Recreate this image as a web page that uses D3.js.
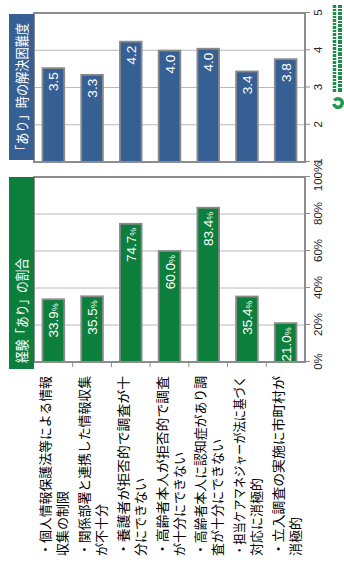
<!DOCTYPE html>
<html><head><meta charset="utf-8">
<script src="https://cdn.jsdelivr.net/npm/d3@7"></script>
<style>body{margin:0;background:#fff}svg{display:block}</style>
</head><body>
<script>
// ---- data ----
const categories = ["c1","c2","c3","c4","c5","c6","c7"];
const labelLine1 = [
  "・個人情報保護法等による情報",
  "・関係部署と連携した情報収集",
  "・養護者が拒否的で調査が十",
  "・高齢者本人が拒否的で調査",
  "・高齢者本人に認知症があり調",
  "・担当ケアマネジャーが法に基づく",
  "・立入調査の実施に市町村が"
];
const labelLine2 = [
  "収集の制限",
  "が不十分",
  "分にできない",
  "が十分にできない",
  "査が十分にできない",
  "対応に消極的",
  "消極的"
];
const experiencedPct = [33.9, 35.5, 74.7, 60.0, 83.4, 35.4, 21.0];
const difficulty = [3.52, 3.34, 4.23, 3.99, 4.04, 3.43, 3.76];
const percentTicks = [0, 20, 40, 60, 80, 100];
const difficultyTicks = [1, 2, 3, 4, 5];
const titlePct = "経験「あり」の割合";
const titleDiff = "「あり」時の解決困難度";

// ---- drawing ----
const W = 344, H = 563;           // screen
const svg = d3.select("body").append("svg").attr("width", W).attr("height", H);
const g = svg.append("g").attr("transform", `translate(0,${H}) rotate(-90)`);

const blue = "#365f93", green = "#0d7f3c";
const jp = "'Noto Sans CJK JP','Noto Sans',sans-serif";
const num = "'Liberation Sans',Arial,sans-serif";

const y = d3.scaleBand().domain(categories).range([34, 305]).paddingInner(0.44).paddingOuter(0.22);
const yStep = d3.scaleBand().domain(categories).range([34, 305]);
const xPct = d3.scaleLinear().domain([0, 100]).range([201, 386]);
const xDiff = d3.scaleLinear().domain([1, 5]).range([401, 550]);

function panel(x, ticks, values, color, fmtLabel, tickFmt, catTicks) {
  const [x0, x1] = x.range();
  g.append("g").selectAll("line").data(ticks).join("line")
    .attr("x1", d => x(d)).attr("x2", d => x(d)).attr("y1", 34).attr("y2", 305)
    .attr("stroke", "#b8b8b8").attr("stroke-width", 1);
  const ax = g.append("g").attr("transform", "translate(0,305)")
    .call(d3.axisBottom(x).tickValues(ticks).tickSize(5).tickPadding(4).tickFormat(tickFmt));
  ax.select(".domain").remove();
  ax.selectAll("line").attr("stroke", "#8c8c8c");
  ax.selectAll("text").attr("font-family", num).attr("font-size", 11.5).attr("fill", "#222");
  if (catTicks) {
    const bounds = categories.slice(1).map(c => yStep(c));
    g.append("g").selectAll("line").data(bounds).join("line")
      .attr("x1", x0 - 5).attr("x2", x0).attr("y1", d => d).attr("y2", d => d)
      .attr("stroke", "#8c8c8c").attr("stroke-width", 1);
  }
  g.append("g").selectAll("rect").data(values).join("rect")
    .attr("x", x0).attr("y", (d, i) => y(categories[i]))
    .attr("width", d => x(d) - x0).attr("height", y.bandwidth())
    .attr("fill", color).attr("stroke", "#8a8a8a").attr("stroke-width", 1.8);
  g.append("rect").attr("x", x0).attr("y", 34).attr("width", x1 - x0).attr("height", 271)
    .attr("fill", "none").attr("stroke", "#8c8c8c").attr("stroke-width", 2);
  const lab = g.append("g").selectAll("text").data(values).join("text")
    .attr("x", d => x(d) - 4).attr("y", (d, i) => y(categories[i]) + y.bandwidth() / 2 + 5)
    .attr("text-anchor", "end").attr("fill", "#fff").attr("font-family", num).attr("font-size", 13.5);
  fmtLabel(lab);
}

panel(xPct, percentTicks, experiencedPct, green, sel => {
  sel.append("tspan").text(d => d3.format(".1f")(d));
  sel.append("tspan").attr("font-size", 9).text("%");
}, d => d + "%", true);

panel(xDiff, difficultyTicks, difficulty, blue, sel => {
  sel.text(d => d3.format(".1f")(d));
}, d => d, false);

// title boxes
g.append("rect").attr("x", 194).attr("y", 9).attr("width", 192).attr("height", 25).attr("fill", green);
g.append("text").attr("x", 200).attr("y", 26.5).attr("fill", "#fff").attr("font-family", jp)
  .attr("font-size", 14).attr("textLength", 105).attr("lengthAdjust", "spacingAndGlyphs").text(titlePct);
g.append("rect").attr("x", 403).attr("y", 9).attr("width", 146).attr("height", 25).attr("fill", blue);
g.append("text").attr("x", 406).attr("y", 26.5).attr("fill", "#fff").attr("font-family", jp)
  .attr("font-size", 14).attr("textLength", 134).attr("lengthAdjust", "spacingAndGlyphs").text(titleDiff);

// category labels
const lg = g.append("g").attr("font-family", jp).attr("font-size", 13).attr("fill", "#000");
lg.selectAll("text.l1").data(labelLine1).join("text").attr("class", "l1")
  .attr("x", 7).attr("y", (d, i) => yStep(categories[i]) + yStep.bandwidth() / 2 - 3)
  .attr("textLength", 180).attr("lengthAdjust", "spacingAndGlyphs").text(d => d);
lg.selectAll("text.l2").data(labelLine2).join("text").attr("class", "l2")
  .attr("x", 7).attr("y", (d, i) => yStep(categories[i]) + yStep.bandwidth() / 2 + 14)
  .text(d => d);

// logo (graphic)
const logo = g.append("g");
logo.append("path").attr("d", d3.arc()({innerRadius: 2.5, outerRadius: 6, startAngle: 0.6, endAngle: 2 * Math.PI - 0.2}))
  .attr("transform", "translate(460,338)").attr("fill", "#1f9a4a");
logo.append("line").attr("x1", 471).attr("x2", 558).attr("y1", 334.5).attr("y2", 334.5)
  .attr("stroke", "#1f8a4a").attr("stroke-width", 3.5).attr("stroke-dasharray", "3,1,2,1");
logo.append("line").attr("x1", 471).attr("x2", 558).attr("y1", 340).attr("y2", 340)
  .attr("stroke", "#1f8a4a").attr("stroke-width", 4).attr("stroke-dasharray", "4,1,3,1,2,1");
</script>
</body></html>
